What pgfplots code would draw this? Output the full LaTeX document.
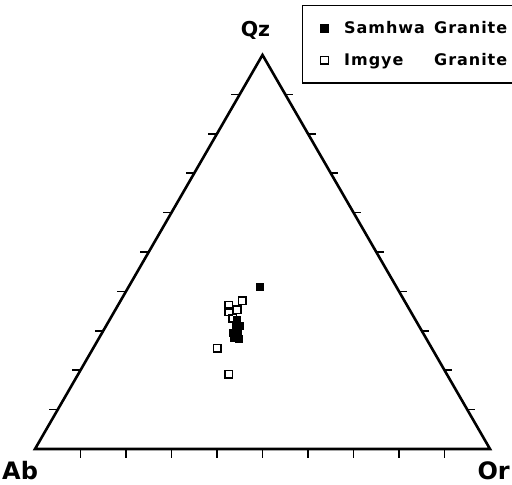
\documentclass[border=0pt]{standalone}
\usepackage{pgfplots}
\pgfplotsset{compat=1.18}
\usepackage{pgfplotstable}
\usepackage{fontspec}
\setmainfont{DejaVu Sans}

% ternary compositions (Qz, Or in %; Ab = 100 - Qz - Or)
\pgfplotstableread{
Qz   Or
41.1 28.9
32.7 28.0
31.0 28.7
31.2 29.4
29.4 28.8
29.4 29.9
28.2 29.6
27.9 30.8
}\samhwa

\pgfplotstableread{
Qz   Or
36.5 24.3
37.6 26.7
34.8 25.2
35.3 26.8
33.2 26.9
25.6 27.2
19.0 33.1
}\imgye

\begin{document}
\begin{tikzpicture}
\begin{axis}[
  name=ax,
  scale only axis, width=512bp, height=485bp,
  xmin=-7.692, xmax=104.835, ymin=-7.912, ymax=98.681,
  hide axis, clip=false,
  reverse legend,
  legend style={at={(rel axis cs:0.5898,0.9897)}, anchor=north west,
    draw=black, line width=1.5bp, inner xsep=10bp, inner ysep=14bp, row sep=14bp,
    font=\fontsize{16bp}{19bp}\selectfont\bfseries\addfontfeatures{LetterSpace=6},
    cells={anchor=west}},
  legend image code/.code={\draw[#1] plot coordinates {(0bp,0bp)}; \path (-11bp,0bp) (17bp,0bp);},
]
% triangle
\addplot[black, line width=2.6bp, line join=miter, forget plot]
  coordinates {(0,0) (100,0) (50,86.603) (0,0) (100,0)};
% tick marks every 10 %
\addplot[black, line width=1.6bp, forget plot, unbounded coords=jump] coordinates {
  (10,0)(10,-2) (nan,nan) (20,0)(20,-2) (nan,nan) (30,0)(30,-2) (nan,nan)
  (40,0)(40,-2) (nan,nan) (50,0)(50,-2) (nan,nan) (60,0)(60,-2) (nan,nan)
  (70,0)(70,-2) (nan,nan) (80,0)(80,-2) (nan,nan) (90,0)(90,-2) (nan,nan)
  (5,8.660)(3.1,8.660) (nan,nan) (10,17.321)(8.1,17.321) (nan,nan)
  (15,25.981)(13.1,25.981) (nan,nan) (20,34.641)(18.1,34.641) (nan,nan)
  (25,43.301)(23.1,43.301) (nan,nan) (30,51.962)(28.1,51.962) (nan,nan)
  (35,60.622)(33.1,60.622) (nan,nan) (40,69.282)(38.1,69.282) (nan,nan)
  (45,77.942)(43.1,77.942) (nan,nan)
  (95,8.660)(96.7,8.660) (nan,nan) (90,17.321)(91.7,17.321) (nan,nan)
  (85,25.981)(86.7,25.981) (nan,nan) (80,34.641)(81.7,34.641) (nan,nan)
  (75,43.301)(76.7,43.301) (nan,nan) (70,51.962)(71.7,51.962) (nan,nan)
  (65,60.622)(66.7,60.622) (nan,nan) (60,69.282)(61.7,69.282) (nan,nan)
  (55,77.942)(56.7,77.942)
};
\addplot[only marks, mark=square, mark size=3.8bp, mark options={line width=1.4bp, fill=white}]
  table[x expr=\thisrow{Or}+0.5*\thisrow{Qz}, y expr=0.8660254*\thisrow{Qz}] {\imgye};
\addlegendentry{\makebox[90bp][l]{Imgye}Granite\rule{30bp}{0pt}}
\addplot[only marks, mark=square*, mark size=3.5bp, black]
  table[x expr=\thisrow{Or}+0.5*\thisrow{Qz}, y expr=0.8660254*\thisrow{Qz}] {\samhwa};
\addlegendentry{\makebox[90bp][l]{Samhwa}Granite\rule{30bp}{0pt}}

\node[anchor=base, font=\fontsize{20.5bp}{24bp}\selectfont\bfseries] at (axis cs:48.46,90.6) {Qz};
\node[anchor=base west, font=\fontsize{24bp}{28bp}\selectfont\bfseries, inner sep=0pt] at (axis cs:-7.25,-6.7) {Ab};
\node[anchor=base east, font=\fontsize{24bp}{28bp}\selectfont\bfseries, inner sep=0pt] at (axis cs:104.4,-6.7) {Or};
\end{axis}
\pgfresetboundingbox
\path[use as bounding box] (ax.south west) rectangle (ax.north east);
\end{tikzpicture}
\end{document}
